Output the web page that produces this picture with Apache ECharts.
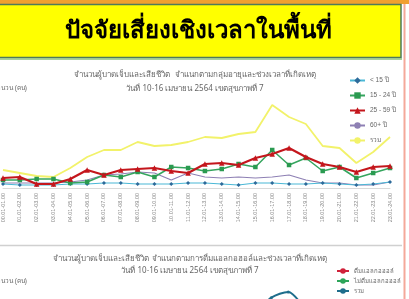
<!DOCTYPE html>
<html><head><meta charset="utf-8">
<script src="https://cdn.jsdelivr.net/npm/echarts@6/dist/echarts.min.js"></script>
<style>html,body{margin:0;padding:0;overflow:hidden;background:#fff;width:409px;height:299px}#c{width:409px;height:420px}</style>
</head><body><div id="c"></div>
<script>
const hours = ['00.01-01.00','01.01-02.00','02.01-03.00','03.01-04.00','04.01-05.00','05.01-06.00','06.01-07.00','07.01-08.00','08.01-09.00','09.01-10.00','10.01-11.00','11.01-12.00','12.01-13.00','13.01-14.00','14.01-15.00','15.01-16.00','16.01-17.00','17.01-18.00','18.01-19.00','19.01-20.00','20.01-21.00','21.01-22.00','22.01-23.00','23.01-24.00'];
const under15 = [4,3,3,3,4,4,5,5,4,4,4,5,5,4,3,5,5,4,4,5,4,3,4,6];
const age15to24 = [8,8,9,9,5,6,13,11,16,11,21,20,17,19,24,21,38,23,30,17,21,10,15,20];
const age25to59 = [10,11,4,4,9,18,13,18,19,20,17,15,24,25,23,30,34,40,31,24,21,16,21,22];
const age60plus = [5,5,5,5,6,8,13,14,16,15,8,15,11,10,11,10,11,13,8,5,5,3,3,6];
const totalAge = [18,15,12,11,20,31,38,38,46,42,43,46,51,50,54,56,83,71,64,42,40,25,36,51];
const drink = [11,10,8,7,6,8,12,15,19,22,25,28,30,33,37,41,49,52,44,38,33,25,22,21];
const noDrink = [9,8,7,5,4,7,10,13,16,18,20,22,25,27,31,34,40,42,36,32,27,20,18,17];
const totalDrink = [20,18,15,12,10,15,22,28,35,40,45,50,55,60,68,75,89,94,80,70,60,45,40,38];
const names1 = ['< 15 ปี','15 - 24 ปี','25 - 59 ปี','60+ ปี','รวม'];
const names2 = ['ดื่มแอลกอฮอล์','ไม่ดื่มแอลกอฮอล์','รวม '];
const pageTitle = 'ปัจจัยเสี่ยงเชิงเวลาในพื้นที่';
const t1a = 'จำนวนผู้บาดเจ็บและเสียชีวิต  จำแนกตามกลุ่มอายุและช่วงเวลาที่เกิดเหตุ';
const t1b = 'วันที่ 10-16 เมษายน 2564 เขตสุขภาพที่ 7';
const t2a = 'จำนวนผู้บาดเจ็บและเสียชีวิต จำแนกตามการดื่มแอลกอฮอล์และช่วงเวลาที่เกิดเหตุ';
const t2b = 'วันที่ 10-16 เมษายน 2564 เขตสุขภาพที่ 7';
const yName = 'จำนวน (คน)';

const ch = echarts.init(document.getElementById('c'), null, {renderer:'canvas'});
const txt = {fontSize:8, color:'#666', fontWeight:'normal', fontFamily:'Noto Sans, sans-serif'};
const cat = (gi, showLabels) => ({type:'category', gridIndex:gi, data:hours, boundaryGap:false,
  axisLine:{show:true, lineStyle:{color:'#d9d9d9'}}, axisTick:{show:false}, splitLine:{show:false},
  axisLabel:{show:showLabels, rotate:90, fontSize:5.5, color:'#888', margin:5, interval:0}});
ch.setOption({
  animation:false,
  backgroundColor:'#fff',
  title:[
    {text:t1a, subtext:t1b, left:195, top:71, textAlign:'center', itemGap:6, textStyle:txt, subtextStyle:txt, padding:0},
    {text:t2a, subtext:t2b, left:190, top:255, textAlign:'center', itemGap:4, textStyle:txt, subtextStyle:txt, padding:0}
  ],
  legend:[
    {data:names1, orient:'vertical', left:349, top:77, itemWidth:15, itemHeight:8, itemGap:8, padding:0,
     textStyle:{fontSize:6.5, color:'#666'}},
    {data:names2, orient:'vertical', left:336, top:268, itemWidth:12, itemHeight:7, itemGap:4, padding:0,
     textStyle:{fontSize:6, color:'#666'}}
  ],
  grid:[
    {left:-1, right:19, top:68, height:120},
    {left:-1, right:19, top:285, height:115}
  ],
  xAxis:[cat(0,true), cat(1,false)],
  yAxis:[
    {type:'value', gridIndex:0, min:0, max:120, show:false},
    {type:'value', gridIndex:1, min:0, max:100, show:false}
  ],
  graphic:[
    {type:'rect', shape:{x:0,y:0,width:409,height:4}, style:{fill:'#F0A030'}, z:-10},
    {type:'rect', shape:{x:-2,y:4.5,width:403,height:53}, style:{fill:'#FFFF00', stroke:'#4E7A5A', lineWidth:1.5}, z:-9},
    {type:'line', shape:{x1:0,y1:59,x2:402,y2:59}, style:{stroke:'#8CC07A', lineWidth:1.5}, z:-9},
    {type:'line', shape:{x1:404.5,y1:4,x2:404.5,y2:299}, style:{stroke:'#F4A89A', lineWidth:2}, z:-9},
    {type:'line', shape:{x1:0,y1:245.5,x2:402,y2:245.5}, style:{stroke:'#d0d0d0', lineWidth:1.5}, z:-9},
    {type:'text', x:198, y:31, style:{text:pageTitle, fontSize:24, fontWeight:900, fill:'#000', align:'center', verticalAlign:'middle'}},
    {type:'text', x:27, y:88, style:{text:yName, fontSize:6.5, fill:'#666', align:'right', verticalAlign:'middle'}},
    {type:'text', x:27, y:281, style:{text:yName, fontSize:6.5, fill:'#666', align:'right', verticalAlign:'middle'}}
  ],
  series:[
    {name:names1[4], type:'line', xAxisIndex:0, yAxisIndex:0, data:totalAge, symbol:'none', lineStyle:{color:'#F2F26A', width:1.8}, itemStyle:{color:'#F2F26A'}, z:1},
    {name:names1[3], type:'line', xAxisIndex:0, yAxisIndex:0, data:age60plus, symbol:'none', lineStyle:{color:'#8E80B4', width:1.2}, itemStyle:{color:'#8E80B4'}, z:2},
    {name:names1[0], type:'line', xAxisIndex:0, yAxisIndex:0, data:under15, symbol:'diamond', symbolSize:4, lineStyle:{color:'#4BB8D6', width:1.2}, itemStyle:{color:'#2D6A9A'}, z:3},
    {name:names1[1], type:'line', xAxisIndex:0, yAxisIndex:0, data:age15to24, symbol:'rect', symbolSize:4.5, lineStyle:{color:'#35A55E', width:1.5}, itemStyle:{color:'#2A9A50'}, z:4},
    {name:names1[2], type:'line', xAxisIndex:0, yAxisIndex:0, data:age25to59, symbol:'triangle', symbolSize:5.5, lineStyle:{color:'#C4161C', width:2.2}, itemStyle:{color:'#C4161C'}, z:5},
    {name:names2[0], type:'line', xAxisIndex:1, yAxisIndex:1, data:drink, symbol:'circle', symbolSize:3, lineStyle:{color:'#D0213A', width:1.5}, itemStyle:{color:'#D0213A'}},
    {name:names2[1], type:'line', xAxisIndex:1, yAxisIndex:1, data:noDrink, symbol:'circle', symbolSize:3, lineStyle:{color:'#2EA55A', width:1.5}, itemStyle:{color:'#2EA55A'}},
    {name:names2[2], type:'line', xAxisIndex:1, yAxisIndex:1, data:totalDrink, symbol:'circle', symbolSize:3, smooth:0.3, lineStyle:{color:'#1F6E8C', width:2}, itemStyle:{color:'#1F6E8C'}}
  ]
});
</script></body></html>
